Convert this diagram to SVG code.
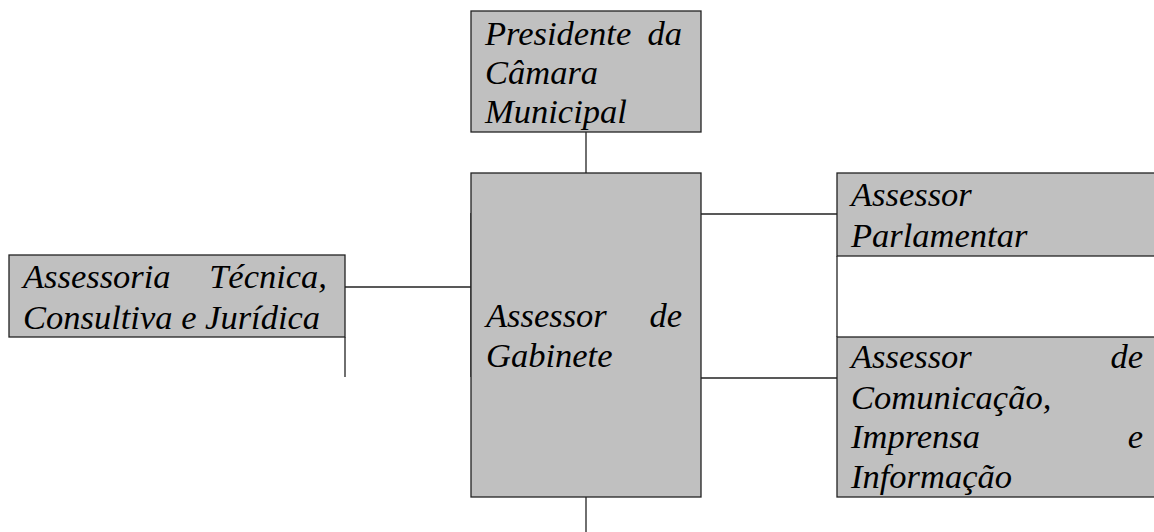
<svg xmlns="http://www.w3.org/2000/svg" width="1154" height="532" viewBox="0 0 1154 532">
<style>
.box{fill:#c0c0c0;stroke:#222;stroke-width:1.3}
.ln{fill:none;stroke:#222;stroke-width:1.3}
.t{font-family:"Liberation Serif","Times New Roman",serif;font-style:italic;font-size:34.5px;fill:#000}
.e{text-anchor:end}
</style>
<rect width="1154" height="532" fill="#fff"/>
<g id="connectors">
<line class="ln" x1="586" y1="132" x2="586" y2="173"/>
<line class="ln" x1="586" y1="497" x2="586" y2="532"/>
<line class="ln" x1="345" y1="287" x2="471" y2="287"/>
<line class="ln" x1="471" y1="213" x2="471" y2="377"/>
<line class="ln" x1="345" y1="337" x2="345" y2="377"/>
<line class="ln" x1="701" y1="214" x2="837" y2="214"/>
<line class="ln" x1="701" y1="378" x2="837" y2="378"/>
<line class="ln" x1="837" y1="256" x2="837" y2="337"/>
</g>
<g id="presidente">
<rect class="box" x="471" y="11" width="230" height="121"/>
<text class="t"><tspan x="485" y="45">Presidente</tspan><tspan class="e" x="682" y="45">da</tspan><tspan x="485" y="84">Câmara</tspan><tspan x="485" y="123">Municipal</tspan></text>
</g>
<g id="gabinete">
<rect class="box" x="471" y="173" width="230" height="324"/>
<text class="t"><tspan x="486" y="327">Assessor</tspan><tspan class="e" x="682" y="327">de</tspan><tspan x="486" y="367">Gabinete</tspan></text>
</g>
<g id="assessoria">
<rect class="box" x="9" y="255" width="336" height="82"/>
<text class="t"><tspan x="23" y="288">Assessoria</tspan><tspan class="e" x="327" y="288">Técnica,</tspan><tspan x="23" y="329">Consultiva e Jurídica</tspan></text>
</g>
<g id="parlamentar">
<rect class="box" x="837" y="173" width="330" height="83"/>
<text class="t"><tspan x="851" y="206">Assessor</tspan><tspan x="851" y="247">Parlamentar</tspan></text>
</g>
<g id="comunicacao">
<rect class="box" x="837" y="337" width="330" height="160"/>
<text class="t"><tspan x="851" y="368">Assessor</tspan><tspan class="e" x="1143" y="368">de</tspan><tspan x="851" y="409">Comunicação,</tspan><tspan x="851" y="448">Imprensa</tspan><tspan class="e" x="1143" y="448">e</tspan><tspan x="851" y="488">Informação</tspan></text>
</g>
</svg>
